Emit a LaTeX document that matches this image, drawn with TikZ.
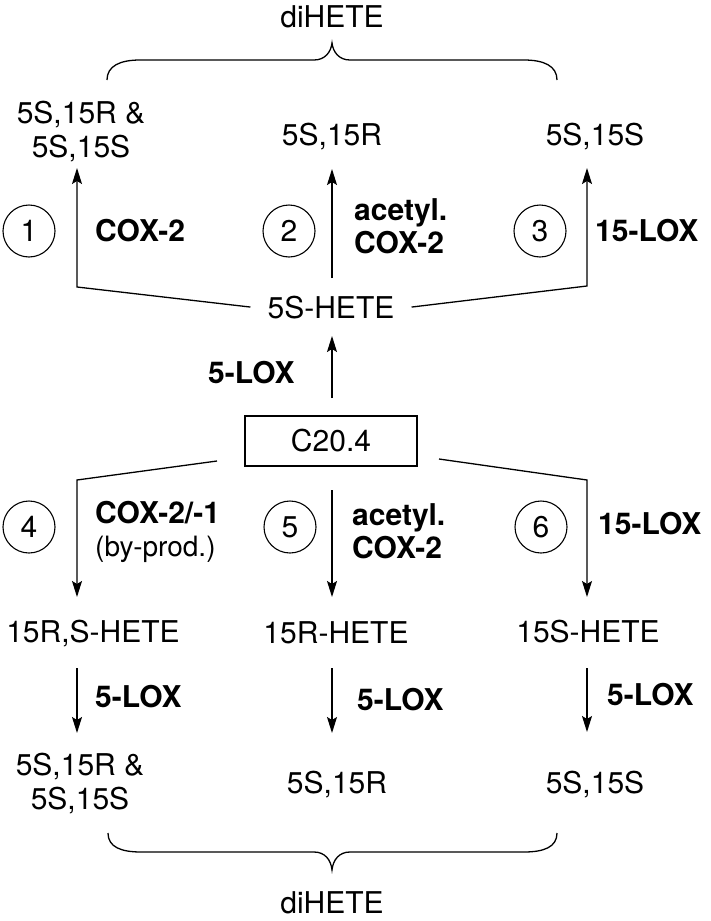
\documentclass[tikz,border=0pt]{standalone}
\usepackage{fontspec}
\setmainfont{TeX Gyre Heros}
\usetikzlibrary{arrows.meta}

\begin{document}
\begin{tikzpicture}[x=1pt, y=-1pt,
    every node/.style={font=\fontsize{30}{34}\selectfont, inner sep=0pt},
    enz/.style={font=\fontsize{30}{33}\selectfont\bfseries, anchor=west, align=left},
    num/.style={circle, draw, line width=1.1pt, minimum size=52pt},
    flecha/.style={-{Stealth[length=16pt, width=10pt, inset=3pt]}, line width=1.3pt},
    llave/.style={line width=1.3pt}]
    \useasboundingbox (0,0) rectangle (711,921);

    % Definición de los nodos (arriba)
    \node[anchor=base] (D1) at (332,27) {diHETE};
    \node[align=center] (P1) at (81,131) {5S,15R \&\\5S,15S};
    \node[anchor=base] (P2) at (332,145) {5S,15R};
    \node[anchor=base] (P3) at (595,145) {5S,15S};
    \node[num] (N1) at (29,231) {1};
    \node[num] (N2) at (289,231) {2};
    \node[num] (N3) at (540,231) {3};
    \node[enz] (E1) at (95,231) {COX-2};
    \node[enz] (E2) at (354,226) {acetyl.\\COX-2};
    \node[enz] (E3) at (595,231) {15-LOX};
    \node[anchor=base, inner xsep=17pt] (H) at (331,318) {5S-HETE};
    \node[enz] (E0) at (208,373) {5-LOX};
    \node[draw, line width=1.1pt, minimum width=172pt, minimum height=50pt] (C) at (331,441) {C20.4};

    % Definición de los nodos (abajo)
    \node[num] (N4) at (29,527) {4};
    \node[num] (N5) at (290,527) {5};
    \node[num] (N6) at (541,527) {6};
    \node[enz] (E4) at (95,532) {COX-2/-1\\{\fontsize{28}{33}\selectfont\mdseries (by-prod.)}};
    \node[enz] (E5) at (352,531) {acetyl.\\COX-2};
    \node[enz] (E6) at (598,524) {15-LOX};
    \node[anchor=base] (R1) at (93,642) {15R,S-HETE};
    \node[anchor=base] (R2) at (336,643) {15R-HETE};
    \node[anchor=base] (R3) at (588,642) {15S-HETE};
    \node[enz] (E7) at (95,697) {5-LOX};
    \node[enz] (E8) at (357,700) {5-LOX};
    \node[enz] (E9) at (607,695) {5-LOX};
    \node[align=center] (Q1) at (80,783) {5S,15R \&\\5S,15S};
    \node[anchor=base] (Q2) at (337,793) {5S,15R};
    \node[anchor=base] (Q3) at (595,793) {5S,15S};
    \node[anchor=base] (D2) at (332,913) {diHETE};

    % Puntos de las flechas
    \coordinate (K1) at (77,287);  \coordinate (T1) at (77,168);
    \coordinate (A2) at (332,278); \coordinate (T2) at (332,169);
    \coordinate (K3) at (587,286); \coordinate (T3) at (587,168);
    \coordinate (A0) at (332,398); \coordinate (T0) at (332,336);
    \coordinate (S4) at (217,461); \coordinate (K4) at (77,480);  \coordinate (T4) at (77,597);
    \coordinate (S5) at (332,490); \coordinate (T5) at (332,597);
    \coordinate (S6) at (439,459); \coordinate (K6) at (587,480); \coordinate (T6) at (587,597);
    \coordinate (A7) at (77,668);  \coordinate (T7) at (77,733);
    \coordinate (A8) at (332,668); \coordinate (T8) at (332,733);
    \coordinate (A9) at (587,668); \coordinate (T9) at (587,732);

    % Definición de las flechas
    \draw[flecha] (H.west) -- (K1) -- (T1);
    \draw[flecha] (A2) -- (T2);
    \draw[flecha] (H.east) -- (K3) -- (T3);
    \draw[flecha] (A0) -- (T0);
    \draw[flecha] (S4) -- (K4) -- (T4);
    \draw[flecha] (S5) -- (T5);
    \draw[flecha] (S6) -- (K6) -- (T6);
    \draw[flecha] (A7) -- (T7);
    \draw[flecha] (A8) -- (T8);
    \draw[flecha] (A9) -- (T9);

    % Llaves
    \draw[llave] (107,80) .. controls (107,66) and (120,60) .. (140,60) -- (314,60)
        .. controls (325,60) and (331,52) .. (332,43)
        .. controls (333,52) and (339,60) .. (350,60) -- (524,60)
        .. controls (544,60) and (557,66) .. (557,80);
    \draw[llave] (108,833) .. controls (108,847) and (121,852) .. (141,852) -- (314,852)
        .. controls (325,852) and (331,860) .. (332,870)
        .. controls (333,860) and (339,852) .. (350,852) -- (524,852)
        .. controls (544,852) and (557,847) .. (557,833);
\end{tikzpicture}
\end{document}
